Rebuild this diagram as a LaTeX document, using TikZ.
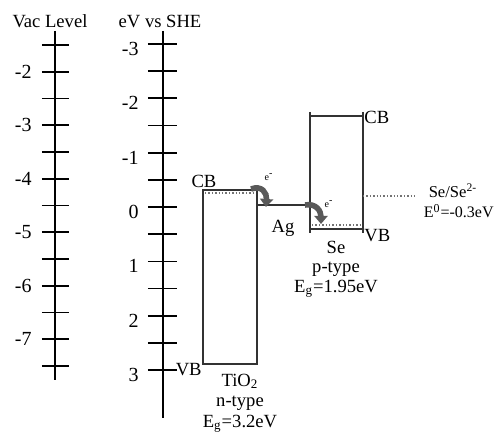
\documentclass[tikz,border=0pt]{standalone}
\usepackage{fontspec}
\setmainfont{Liberation Serif}
\usepackage{tikz}
\usetikzlibrary{arrows.meta, positioning}

\begin{document}
\begin{tikzpicture}[
    x=0.5pt, y=-0.5pt,
    font=\fontsize{9.3}{10}\selectfont,
    axis/.style={line width=0.85pt},
    tickmark/.style={line width=0.85pt},
    band/.style={line width=0.8pt, draw=black!80},
    fermi/.style={densely dotted, line width=0.7pt, draw=black!55},
    lbl/.style={inner sep=0pt},
    elbl/.style={inner sep=0pt, font=\fontsize{5}{6}\selectfont},
    eflow/.style={line width=2.8pt, draw=black!65, -{Triangle[length=4pt, width=6.5pt]}}
]
\useasboundingbox (0,0) rectangle (495,433);

% vacuum scale
\node[lbl] (vachead) at (50,21) {Vac Level};
\coordinate (vactop) at (55,31);
\coordinate (vacbot) at (55,380);
\draw[axis] (vactop) -- (vacbot);
\foreach \i in {0,...,12}
  \draw[tickmark] (42,45+26.75*\i) -- (69,45+26.75*\i);
\foreach \v [count=\k from 0] in {-2,-3,-4,-5,-6,-7}
  \node[lbl, anchor=east, font=\fontsize{10}{11}\selectfont] (vac\k) at (32,72+53.4*\k) {\v};

% SHE scale
\node[lbl] (shehead) at (160,21) {eV vs SHE};
\coordinate (shetop) at (163,31);
\coordinate (shebot) at (163,418);
\draw[axis] (shetop) -- (shebot);
\foreach \i in {0,...,12}
  \draw[tickmark] (148,44+27.17*\i) -- (177,44+27.17*\i);
\foreach \v [count=\k from 0] in {-3,-2,-1,0,1,2,3}
  \node[lbl, anchor=east, font=\fontsize{10}{11}\selectfont] (she\k) at (139,49+54.33*\k) {\v};

% TiO2
\draw[band] (203,190) rectangle (257,364);
\draw[fermi] (205,193) -- (255,193);
\node[lbl, anchor=south] (tcb) at (204,188) {CB};
\node[lbl, anchor=east] (tvb) at (202,370) {VB};
\node[lbl, align=center, font=\fontsize{9.3}{10.2}\selectfont] (tio2) at (240,403)
  {TiO\textsubscript{2}\\n-type\\E\textsubscript{g}=3.2eV};

% Ag
\coordinate (agl) at (257,205);
\coordinate (agr) at (310,205);
\draw[band] (agl) -- (agr);
\node[lbl] (ag) at (283,228) {Ag};

% Se
\draw[band] (310,112) -- (310,233);
\draw[band] (363,112) -- (363,233);
\draw[band] (310,116) -- (363,116);
\draw[band] (310,229) -- (363,229);
\draw[fermi] (312,225) -- (361,225);
\node[lbl, anchor=west] (scb) at (364,117) {CB};
\node[lbl, anchor=west] (svb) at (364,236) {VB};
\node[lbl, align=center, font=\fontsize{9.3}{9.8}\selectfont] (se) at (336,269)
  {Se\\p-type\\E\textsubscript{g}=1.95eV};

% redox level
\coordinate (redox) at (363,196);
\coordinate (redoxend) at (415,196);
\draw[fermi] (redox) -- (redoxend);
\node[lbl, font=\fontsize{8.3}{9}\selectfont] (couple) at (453,191) {Se/Se\textsuperscript{2-}};
\node[lbl, anchor=east, font=\fontsize{8}{9}\selectfont] (pot) at (494,211) {E\textsuperscript{0}=-0.3eV};

% electron transfer
\coordinate (e1s) at (251,189);
\coordinate (e1t) at (266,207);
\draw[eflow] (e1s) .. controls (262,185) and (267,193) .. (e1t);
\node[elbl] (e1) at (269,177) {e\textsuperscript{-}};
\coordinate (e2s) at (305,205);
\coordinate (e2t) at (321,224);
\draw[eflow] (e2s) .. controls (316,203) and (321,211) .. (e2t);
\node[elbl] (e2) at (329,204) {e\textsuperscript{-}};
\end{tikzpicture}
\end{document}
